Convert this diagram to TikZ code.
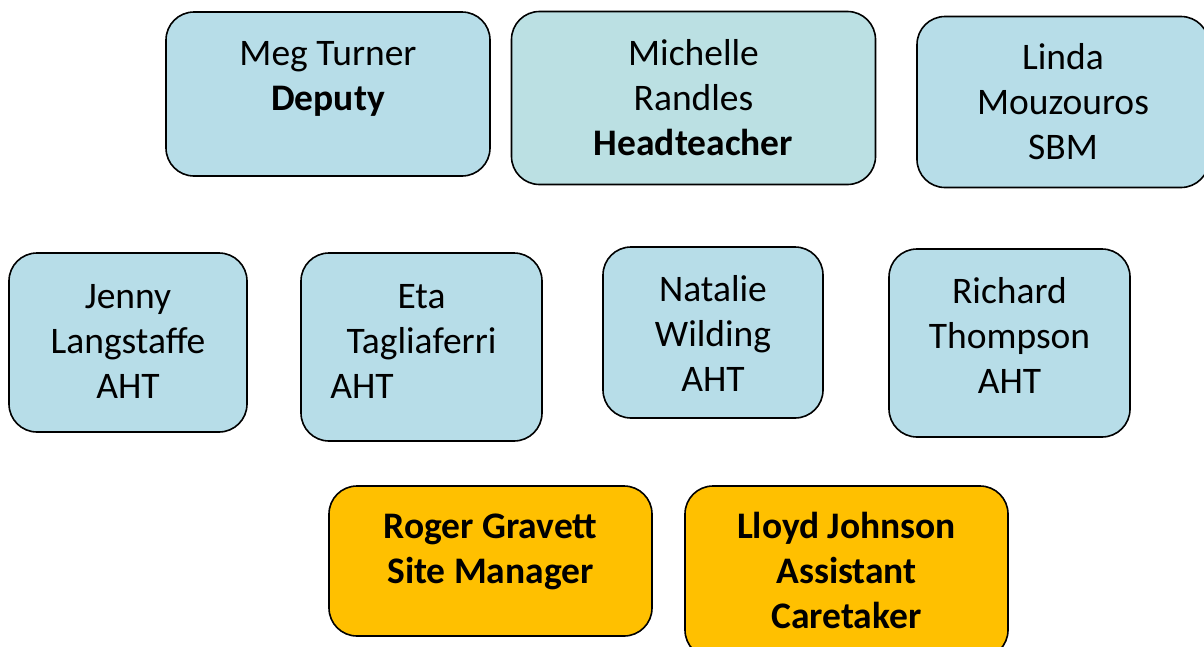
\documentclass[tikz,border=0pt]{standalone}
\usepackage{fontspec}
\setmainfont{Carlito}
\usetikzlibrary{arrows,positioning}
\usepackage{xcolor}
\definecolor{staffblue}{HTML}{B7DDE8}
\definecolor{headblue}{HTML}{BBE0E3}
\definecolor{siteorange}{HTML}{FFC000}

\begin{document}
\begin{tikzpicture}[x=1pt,y=-1pt,semithick]
  \tikzstyle{staff}=[rectangle,rounded corners=28pt,draw=black,line width=1.6pt,fill=staffblue,
                     align=center,inner sep=0pt,text depth=8pt,font=\fontsize{37.5}{45}\selectfont]
  \tikzstyle{head}=[staff,fill=headblue]
  \tikzstyle{site}=[staff,fill=siteorange,font=\fontsize{37.5}{45}\selectfont\bfseries]

  \useasboundingbox (0,0) rectangle (1204,646);

  \node[staff,minimum width=324pt,minimum height=164pt,text height=40pt]  (meg)      at (328,94)    {Meg Turner\\\textbf{Deputy}};
  \node[head,minimum width=364pt,minimum height=173pt,text height=122pt]  (michelle) at (693.5,98)  {Michelle\\Randles\\\textbf{Headteacher}};
  \node[staff,minimum width=292pt,minimum height=171pt,text height=122pt] (linda)    at (1063,102)  {Linda\\Mouzouros\\SBM};

  \node[staff,minimum width=238pt,minimum height=179pt,text height=119pt] (jenny)    at (128,342.5) {Jenny\\Langstaffe\\AHT};
  \node[staff,minimum width=241pt,minimum height=188pt,text height=110pt] (eta)      at (421.5,347) {Eta\\Tagliaferri\\AHT\hspace*{119pt}};
  \node[staff,minimum width=220pt,minimum height=171pt,text height=125pt] (natalie)  at (713,332.5) {Natalie\\Wilding\\AHT};
  \node[staff,minimum width=241pt,minimum height=188pt,text height=108pt] (richard)  at (1009.5,343) {Richard\\Thompson\\AHT};

  \node[site,minimum width=323pt,minimum height=150pt,text height=52pt]   (roger)    at (490.5,561) {Roger Gravett\\Site Manager};
  \node[site,minimum width=323pt,minimum height=172pt,text height=120pt]  (lloyd)    at (846.5,572) {Lloyd Johnson\\Assistant\\Caretaker};
\end{tikzpicture}
\end{document}
